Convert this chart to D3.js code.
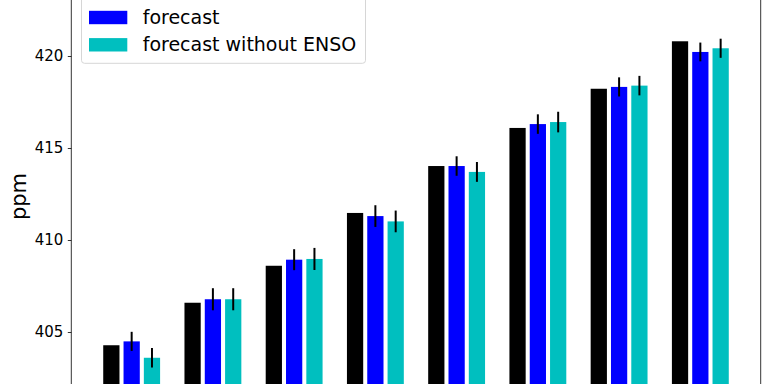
<!DOCTYPE html>
<html>
<head>
<meta charset="utf-8">
<script src="https://cdn.jsdelivr.net/npm/d3@7"></script>
<style>
  body { margin: 0; background: #fff; }
  svg { display: block; font-family: "DejaVu Sans", sans-serif; }
</style>
</head>
<body>
<div id="chart"></div>
<script>
const years = ["2016", "2017", "2018", "2019", "2020", "2021", "2022", "2023"];
const observed = [404.28, 406.59, 408.6, 411.47, 414.02, 416.09, 418.22, 420.8];
const forecast = [404.49, 406.78, 408.93, 411.3, 414.02, 416.3, 418.32, 420.22];
const forecastErr = [0.52, 0.6, 0.57, 0.59, 0.53, 0.53, 0.52, 0.51];
const noEnso = [403.6, 406.78, 408.97, 411.01, 413.7, 416.41, 418.39, 420.42];
const noEnsoErr = [0.53, 0.6, 0.6, 0.59, 0.54, 0.56, 0.53, 0.52];
const yTicks = [405, 410, 415, 420];

const svgWidth = 768;
const svgHeight = 384;

const series = [
  { name: "observed", values: observed, err: null, color: "#000000", offset: -0.25 },
  { name: "forecast", values: forecast, err: forecastErr, color: "#0000ff", offset: 0 },
  { name: "forecast without ENSO", values: noEnso, err: noEnsoErr, color: "#00bfbf", offset: 0.25 },
];

const svg = d3.select("#chart")
  .append("svg")
  .attr("width", svgWidth)
  .attr("height", svgHeight);

const left = 71.3, right = 760.7;

const x = d3.scaleLinear()
  .domain([-0.743, years.length - 1 + 0.743])
  .range([left, right]);

const y = d3.scaleLinear()
  .domain([405, 420])
  .range([332, 56]);

const barW = x(0.2) - x(0);
const base = y(400);

// bars
series.forEach((s) => {
  svg.append("g")
    .selectAll("rect")
    .data(s.values)
    .enter()
    .append("rect")
    .attr("x", (d, i) => x(i + s.offset) - barW / 2)
    .attr("y", (d) => y(d))
    .attr("width", barW)
    .attr("height", (d) => base - y(d))
    .attr("fill", s.color);

  if (s.err) {
    svg.append("g")
      .selectAll("line")
      .data(s.values)
      .enter()
      .append("line")
      .attr("x1", (d, i) => x(i + s.offset))
      .attr("x2", (d, i) => x(i + s.offset))
      .attr("y1", (d, i) => y(d - s.err[i]))
      .attr("y2", (d, i) => y(d + s.err[i]))
      .attr("stroke", "#000")
      .attr("stroke-width", 2);
  }
});

// y axis
const yAxis = svg.append("g")
  .attr("transform", `translate(${left},0)`)
  .call(d3.axisLeft(y).tickValues(yTicks).tickSize(3.5).tickPadding(4.5).tickSizeOuter(0));
yAxis.select(".domain").remove();
yAxis.selectAll("text")
  .attr("font-family", "DejaVu Sans, sans-serif")
  .attr("font-size", 15)
  .attr("fill", "#000");
yAxis.selectAll("line").attr("stroke", "#000").attr("stroke-width", 0.8);

// spines
svg.append("line")
  .attr("x1", left).attr("x2", left)
  .attr("y1", 0).attr("y2", svgHeight)
  .attr("stroke", "#000").attr("stroke-width", 0.8);
svg.append("line")
  .attr("x1", right).attr("x2", right)
  .attr("y1", 0).attr("y2", svgHeight)
  .attr("stroke", "#000").attr("stroke-width", 0.8);

// y label
svg.append("text")
  .attr("transform", `translate(25.5,196.5) rotate(-90)`)
  .attr("text-anchor", "middle")
  .attr("font-size", 21)
  .attr("fill", "#000")
  .text("ppm");

// legend (top edge falls outside the picture)
const legend = svg.append("g");
legend.append("rect")
  .attr("x", 81.5)
  .attr("y", -40)
  .attr("width", 284)
  .attr("height", 103.3)
  .attr("rx", 3)
  .attr("fill", "#fff")
  .attr("fill-opacity", 0.8)
  .attr("stroke", "#d6d6d6")
  .attr("stroke-width", 1);

const rows = series.slice(1);
rows.forEach((s, i) => {
  const cy = 17.5 + i * 27.3;
  legend.append("rect")
    .attr("x", 89)
    .attr("y", cy - 6.7)
    .attr("width", 38.3)
    .attr("height", 13.4)
    .attr("fill", s.color);
  legend.append("text")
    .attr("x", 142.7)
    .attr("y", cy + 6.6)
    .attr("font-size", 19)
    .attr("fill", "#000")
    .text(s.name);
});
</script>
</body>
</html>
